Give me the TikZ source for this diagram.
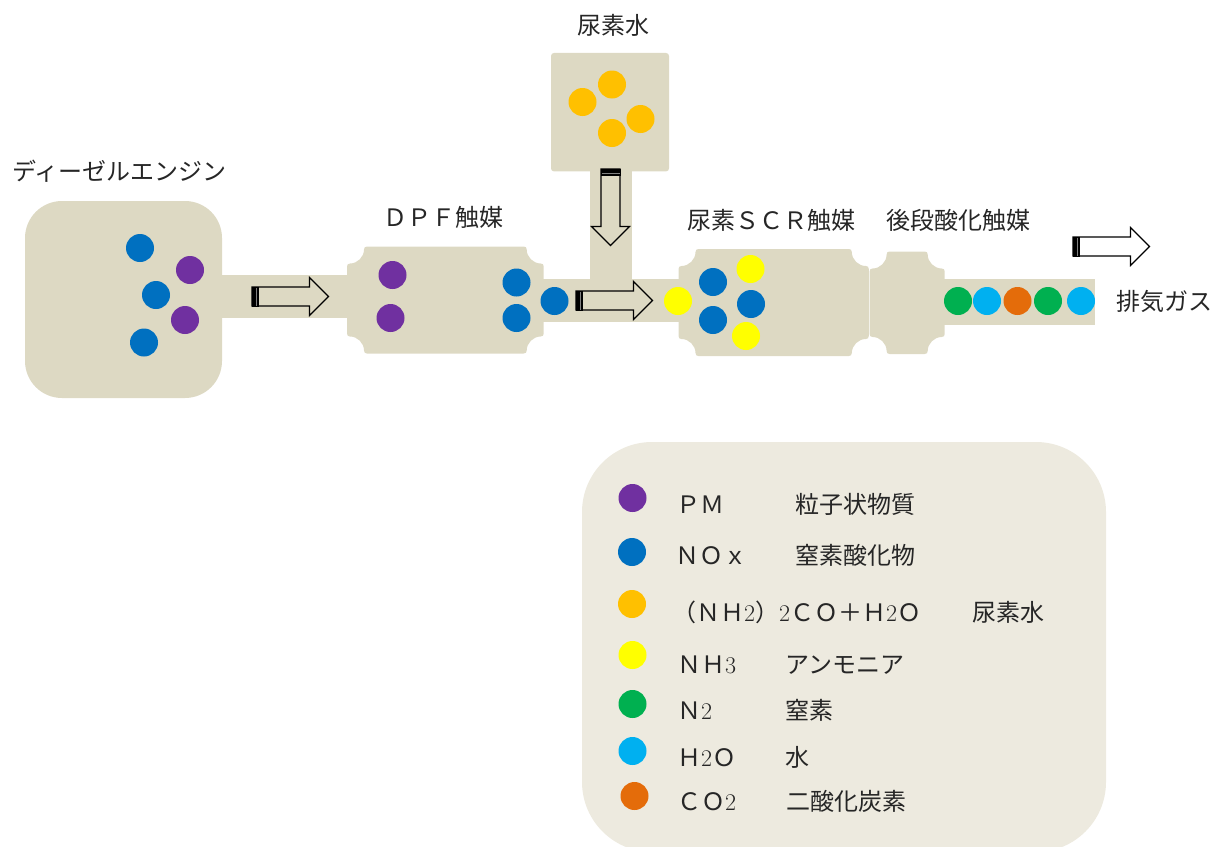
\documentclass[tikz,border=0pt]{standalone}
\usepackage{fontspec}
\usepackage{tikz}
\usetikzlibrary{positioning, calc}
\newfontfamily\cjkfont{Noto Sans CJK JP}
\definecolor{gasbeige}{RGB}{221, 217, 195}
\definecolor{legendbeige}{RGB}{237, 234, 223}
\definecolor{pmpurple}{RGB}{112, 48, 160}
\definecolor{noxblue}{RGB}{0, 112, 192}
\definecolor{ureaamber}{RGB}{255, 192, 0}
\definecolor{nhyellow}{RGB}{255, 255, 0}
\definecolor{ntwogreen}{RGB}{0, 176, 80}
\definecolor{watersky}{RGB}{0, 176, 240}
\definecolor{cotwoorange}{RGB}{228, 108, 10}
\newcommand{\sdig}[1]{{\rmfamily #1}}
% catalyst block with scooped corners
\newcommand{\plaque}[4]{
  \fill[gasbeige] (#1+20,#2) -- (#3-20,#2)
    .. controls (#3-18,#2) and (#3-17,#2+1) .. (#3-17,#2+3)
    .. controls (#3-17,#2+10.5) and (#3-10.5,#2+17) .. (#3-3,#2+17)
    .. controls (#3-1,#2+17) and (#3,#2+18) .. (#3,#2+20)
    -- (#3,#4-20)
    .. controls (#3,#4-18) and (#3-1,#4-17) .. (#3-3,#4-17)
    .. controls (#3-10.5,#4-17) and (#3-17,#4-10.5) .. (#3-17,#4-3)
    .. controls (#3-17,#4-1) and (#3-18,#4) .. (#3-20,#4)
    -- (#1+20,#4)
    .. controls (#1+18,#4) and (#1+17,#4-1) .. (#1+17,#4-3)
    .. controls (#1+17,#4-10.5) and (#1+10.5,#4-17) .. (#1+3,#4-17)
    .. controls (#1+1,#4-17) and (#1,#4-18) .. (#1,#4-20)
    -- (#1,#2+20)
    .. controls (#1,#2+18) and (#1+1,#2+17) .. (#1+3,#2+17)
    .. controls (#1+10.5,#2+17) and (#1+17,#2+10.5) .. (#1+17,#2+3)
    .. controls (#1+17,#2+1) and (#1+18,#2) .. (#1+20,#2) -- cycle;
}

\begin{document}
\begin{tikzpicture}[
  x=1pt, y=-1pt,
  lbl/.style={font=\cjkfont\fontsize{24}{28}\selectfont, text=black!85, inner sep=0pt},
  row/.style={lbl, anchor=west, text height=20pt, text depth=4pt},
  dot/.style={circle, minimum size=28pt, inner sep=0pt},
  flowarrow/.pic={
    \draw[line width=1.1pt, line join=miter] (0,-9.5) -- (57.5,-9.5) -- (57.5,-19) -- (76.5,0) -- (57.5,19) -- (57.5,9.5) -- (0,9.5) -- cycle;
    \fill (0,-10) rectangle (6.5,10);
    \draw[gray, line width=0.8pt] (4.5,-9) -- (4.5,9);
  }
]
  \useasboundingbox (0,0) rectangle (1210,846);

  % gas path
  \node[fill=gasbeige, rounded corners=37pt, minimum width=197pt, minimum height=197pt, inner sep=0pt] (engine) at (123.5,299.5) {};
  \node[fill=gasbeige, rounded corners=3pt, minimum width=118pt, minimum height=118.5pt, inner sep=0pt] (tank) at (610,112.2) {};
  \fill[gasbeige] (220,275) rectangle (350,318);
  \fill[gasbeige] (540,279) rectangle (682,322);
  \fill[gasbeige] (589.5,170) rectangle (632,282);
  \fill[gasbeige] (942,279) rectangle (1095,325);
  \plaque{347}{246.5}{543.7}{353.5}
  \plaque{678.5}{249}{868.8}{356}
  \plaque{869.6}{251.5}{944.7}{354}

  \pic at (252,296.5) {flowarrow};
  \pic at (576,300.5) {flowarrow};
  \pic at (1073,246.5) {flowarrow};
  \pic[rotate=-90] at (610.5,169) {flowarrow};

  \node[lbl] (lbltank) at (613,25) {尿素水};
  \node[lbl] (lblengine) at (119.5,171) {ディーゼルエンジン};
  \node[lbl] (lbldpf) at (443,217) {ＤＰＦ触媒};
  \node[lbl] (lblscr) at (771.5,220) {尿素ＳＣＲ触媒};
  \node[lbl] (lblpost) at (958.5,220) {後段酸化触媒};
  \node[lbl] (lblexhaust) at (1164,301) {排気ガス};

  % engine
  \node[dot, fill=noxblue] (e1) at (140,248) {};
  \node[dot, fill=pmpurple] (e2) at (190,270) {};
  \node[dot, fill=noxblue] (e3) at (156,295) {};
  \node[dot, fill=pmpurple] (e4) at (185,320) {};
  \node[dot, fill=noxblue] (e5) at (144,342.5) {};
  % DPF
  \node[dot, fill=pmpurple] (d1) at (392.5,275) {};
  \node[dot, fill=pmpurple] (d2) at (390.5,318) {};
  \node[dot, fill=noxblue] (d3) at (516.5,282.5) {};
  \node[dot, fill=noxblue] (d4) at (516.5,318) {};
  \node[dot, fill=noxblue] (d5) at (554.5,301) {};
  % urea tank
  \node[dot, fill=ureaamber] (t1) at (582.5,102) {};
  \node[dot, fill=ureaamber] (t2) at (612,84.5) {};
  \node[dot, fill=ureaamber] (t3) at (640.5,119) {};
  \node[dot, fill=ureaamber] (t4) at (612,133) {};
  % SCR
  \node[dot, fill=nhyellow] (s1) at (678,301) {};
  \node[dot, fill=noxblue] (s2) at (713,282) {};
  \node[dot, fill=noxblue] (s3) at (713,320) {};
  \node[dot, fill=noxblue] (s4) at (751,304) {};
  \node[dot, fill=nhyellow] (s5) at (750.5,269) {};
  \node[dot, fill=nhyellow] (s6) at (746,336) {};
  % outlet
  \node[dot, fill=ntwogreen] (o1) at (958,301) {};
  \node[dot, fill=watersky] (o2) at (987,301) {};
  \node[dot, fill=cotwoorange] (o3) at (1017.5,301) {};
  \node[dot, fill=ntwogreen] (o4) at (1048,301) {};
  \node[dot, fill=watersky] (o5) at (1081,301) {};

  % legend
  \node[fill=legendbeige, rounded corners=70pt, minimum width=524pt, minimum height=410pt, inner sep=0pt] (legend) at (844,647) {};
  \node[dot, fill=pmpurple] (k1) at (632.5,498) {};
  \node[dot, fill=noxblue] (k2) at (632,552) {};
  \node[dot, fill=ureaamber] (k3) at (632,604) {};
  \node[dot, fill=nhyellow] (k4) at (632.5,655) {};
  \node[dot, fill=ntwogreen] (k5) at (632.5,704) {};
  \node[dot, fill=watersky] (k6) at (632.5,751) {};
  \node[dot, fill=cotwoorange] (k7) at (634.5,796) {};

  \node[row] (r1a) at (676,505) {ＰＭ};
  \node[row] (r1b) at (795,505) {粒子状物質};
  \node[row] (r2a) at (675,556) {ＮＯｘ};
  \node[row] (r2b) at (795,556) {窒素酸化物};
  \node[row] (r3a) at (672,613) {（ＮＨ\sdig{2}）\sdig{2}ＣＯ＋Ｈ\sdig{2}Ｏ};
  \node[row] (r3b) at (972,613) {尿素水};
  \node[row] (r4a) at (677,665) {ＮＨ\sdig{3}};
  \node[row] (r4b) at (785,665) {アンモニア};
  \node[row] (r5a) at (677,711) {Ｎ\sdig{2}};
  \node[row] (r5b) at (785,711) {窒素};
  \node[row] (r6a) at (677,758) {Ｈ\sdig{2}Ｏ};
  \node[row] (r6b) at (785,758) {水};
  \node[row] (r7a) at (677,802) {ＣＯ\sdig{2}};
  \node[row] (r7b) at (786,802) {二酸化炭素};
\end{tikzpicture}
\end{document}
